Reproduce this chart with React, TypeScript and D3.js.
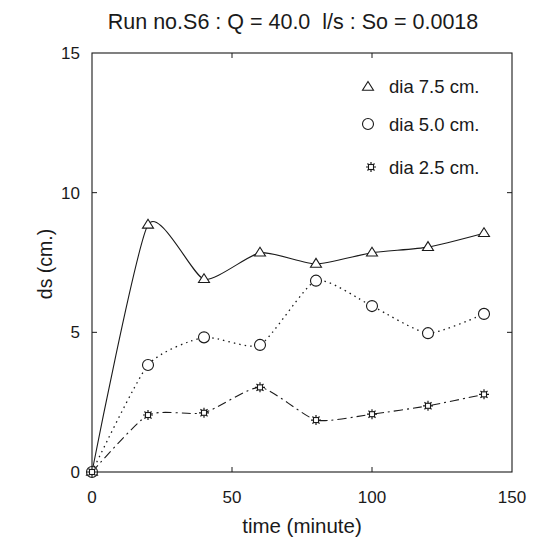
import React from "react";
import * as d3 from "d3";

const times = [0, 20, 40, 60, 80, 100, 120, 140];
const dia75 = [0, 8.85, 6.9, 7.85, 7.45, 7.85, 8.05, 8.55];
const dia50 = [0, 3.83, 4.82, 4.55, 6.85, 5.94, 4.97, 5.66];
const dia25 = [0, 2.04, 2.12, 3.03, 1.86, 2.07, 2.37, 2.78];
const xTicks = [0, 50, 100, 150];
const yTicks = [0, 5, 10, 15];
const legendLabels = ["dia 7.5 cm.", "dia 5.0 cm.", "dia 2.5 cm."];
const title = "Run no.S6 : Q = 40.0  l/s : So = 0.0018";
const xLabel = "time (minute)";
const yLabel = "ds (cm.)";

const FONT = "'Liberation Sans', Arial, Helvetica, sans-serif";
const INK = "#1a1a1a";

const L = 92, R = 512, T = 53, B = 472;

function Star({ x, y }: { x: number; y: number }) {
  const r = 5;
  const rays = d3.range(8).map((i) => {
    const a = (i * Math.PI) / 4;
    return `M${x + 2.4 * Math.cos(a)},${y + 2.4 * Math.sin(a)}L${x + r * Math.cos(a)},${y + r * Math.sin(a)}`;
  });
  return (
    <g>
      <path d={rays.join("")} stroke={INK} strokeWidth={1.2} />
      <rect x={x - 2.5} y={y - 2.5} width={5} height={5} fill="white" stroke={INK} strokeWidth={1.1} />
    </g>
  );
}

function Tri({ x, y }: { x: number; y: number }) {
  const s = 5.5;
  return (
    <path
      d={`M${x},${y - s}L${x + s},${y + s * 0.6}L${x - s},${y + s * 0.6}Z`}
      fill="white"
      stroke={INK}
      strokeWidth={1.1}
    />
  );
}

function Circ({ x, y }: { x: number; y: number }) {
  return <circle cx={x} cy={y} r={5.5} fill="white" stroke={INK} strokeWidth={1.1} />;
}

export default function App() {
  const xs = d3.scaleLinear().domain([0, 150]).range([L, R]);
  const ys = d3.scaleLinear().domain([0, 15]).range([B, T]);
  const line = d3
    .line<number>()
    .x((_, i) => xs(times[i]))
    .y((d) => ys(d))
    .curve(d3.curveCardinal.tension(0.4));

  return (
    <svg width={538} height={538} style={{ position: "absolute", left: 0, top: 0, background: "white" }}>
      <rect x={0} y={0} width={538} height={538} fill="white" />
      <text
        x={293}
        y={29}
        fontFamily={FONT}
        fontSize={21.5}
        fill={INK}
        textAnchor="middle"
        style={{ whiteSpace: "pre" }}
      >
        {title}
      </text>
      {/* frame */}
      <rect x={L} y={T} width={R - L} height={B - T} fill="none" stroke={INK} strokeWidth={1.1} />
      {/* ticks */}
      {xTicks.slice(1, -1).map((t) => (
        <g key={"xt" + t}>
          <line x1={xs(t)} x2={xs(t)} y1={B} y2={B - 5} stroke={INK} />
          <line x1={xs(t)} x2={xs(t)} y1={T} y2={T + 5} stroke={INK} />
        </g>
      ))}
      {yTicks.slice(1, -1).map((t) => (
        <g key={"yt" + t}>
          <line x1={L} x2={L + 5} y1={ys(t)} y2={ys(t)} stroke={INK} />
          <line x1={R} x2={R - 5} y1={ys(t)} y2={ys(t)} stroke={INK} />
        </g>
      ))}
      {xTicks.map((t) => (
        <text key={"xl" + t} x={xs(t)} y={503} fontFamily={FONT} fontSize={17} fill={INK} textAnchor="middle">
          {t}
        </text>
      ))}
      {yTicks.map((t) => (
        <text key={"yl" + t} x={80} y={ys(t) + 6} fontFamily={FONT} fontSize={17} fill={INK} textAnchor="end">
          {t}
        </text>
      ))}
      <text x={302} y={533} fontFamily={FONT} fontSize={20.5} fill={INK} textAnchor="middle">
        {xLabel}
      </text>
      <text
        transform={`translate(52,264) rotate(-90)`}
        fontFamily={FONT}
        fontSize={19.5}
        fill={INK}
        textAnchor="middle"
      >
        {yLabel}
      </text>
      {/* lines */}
      <path d={line(dia75) || ""} fill="none" stroke={INK} strokeWidth={1.1} />
      <path d={line(dia50) || ""} fill="none" stroke={INK} strokeWidth={1.3} strokeDasharray="1.5,4" />
      <path d={line(dia25) || ""} fill="none" stroke={INK} strokeWidth={1.1} strokeDasharray="9,4,2,4" />
      {/* markers */}
      {dia75.map((v, i) => (
        <Tri key={"t" + i} x={xs(times[i])} y={ys(v)} />
      ))}
      {dia50.map((v, i) => (
        <Circ key={"c" + i} x={xs(times[i])} y={ys(v)} />
      ))}
      {dia25.map((v, i) => (
        <Star key={"s" + i} x={xs(times[i])} y={ys(v)} />
      ))}
      {/* legend */}
      <Tri x={368} y={87} />
      <Circ x={368} y={124} />
      <Star x={371} y={167} />
      {legendLabels.map((l, i) => (
        <text key={l} x={389} y={[86, 124, 167][i] + 6.5} fontFamily={FONT} fontSize={18.5} fill={INK}>
          {l}
        </text>
      ))}
    </svg>
  );
}
